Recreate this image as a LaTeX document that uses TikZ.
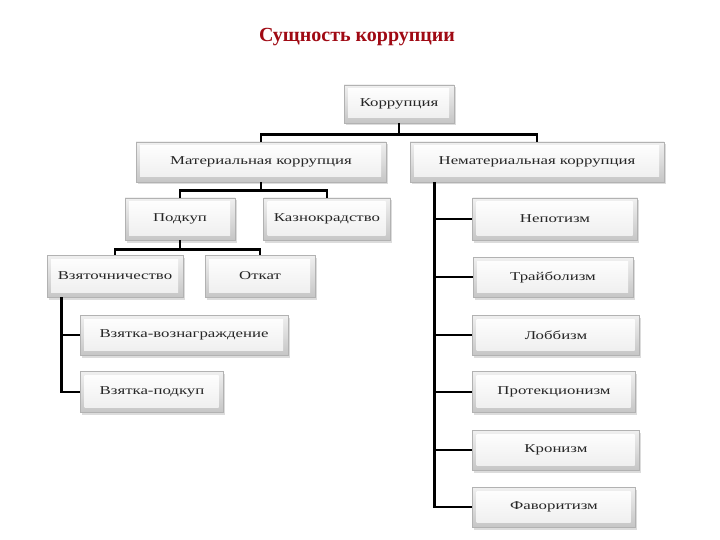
\documentclass[tikz,border=0pt]{standalone}
\usepackage{fontspec}
\setmainfont{Liberation Serif}
\newfontfamily\boxfont{Liberation Serif}[FakeStretch=1.4]
\usetikzlibrary{shadows}
\definecolor{titlered}{RGB}{160,10,20}
\tikzset{
  cbox/.style={draw=gray!60, line width=0.6pt, top color=gray!12, bottom color=gray!45,
    minimum width=#1, minimum height=40pt, inner sep=0pt,
    font=\boxfont\fontsize{12}{14}\selectfont, text=black!85,
    drop shadow={shadow xshift=1.5pt, shadow yshift=-2.5pt, fill=gray!60, opacity=0.45},
    path picture={\shade[top color=white, bottom color=gray!14]
      ([shift={(4pt,-4pt)}]path picture bounding box.north west) rectangle
      ([shift={(-5pt,5pt)}]path picture bounding box.south east);}},
  link/.style={line width=2.8pt, draw=black}
}
\begin{document}
\begin{tikzpicture}[x=1pt,y=-1pt]
\useasboundingbox[fill=white] (0,0) rectangle (720,540);
\node[font=\bfseries\fontsize{20}{24}\selectfont, text=titlered] (title) at (357,37) {Сущность коррупции};

\node[cbox=110pt, minimum height=38pt] (root) at (399,104) {Коррупция};
\node[cbox=250pt] (mat) at (261,162) {Материальная коррупция};
\node[cbox=254pt] (nemat) at (537,162) {Нематериальная коррупция};
\node[cbox=110pt, minimum height=42pt] (podkup) at (180,219) {Подкуп};
\node[cbox=127pt, minimum height=42pt] (kazn) at (327,219) {Казнокрадство};
\node[cbox=136pt, minimum height=42pt] (vzyat) at (115,276) {Взяточничество};
\node[cbox=110pt, minimum height=42pt] (otkat) at (260,276) {Откат};
\node[cbox=208pt] (vv) at (184,335) {Взятка-вознаграждение};
\node[cbox=143pt, minimum height=41pt] (vp) at (152,392) {Взятка-подкуп};
\node[cbox=165pt, minimum height=42pt] (nep) at (555,219) {Непотизм};
\node[cbox=160pt] (tra) at (553,277) {Трайболизм};
\node[cbox=167pt] (lob) at (556,335) {Лоббизм};
\node[cbox=163pt, minimum height=41pt] (prot) at (554,392) {Протекционизм};
\node[cbox=167pt] (kron) at (556,450) {Кронизм};
\node[cbox=163pt] (fav) at (554,507) {Фаворитизм};

\draw[link] (root.south) -- ++(0,11) -| (mat.north);
\draw[link] (root.south) -- ++(0,11) -| (nemat.north);
\draw[link] (mat.south) -- ++(0,8) -| (podkup.north);
\draw[link] (mat.south) -- ++(0,8) -| (kazn.north);
\draw[link] (podkup.south) -- ++(0,9) -| (vzyat.north);
\draw[link] (podkup.south) -- ++(0,9) -| (otkat.north);
\draw[link] ([xshift=15pt]vzyat.south west) |- (vv.west);
\draw[link] ([xshift=15pt]vzyat.south west) |- (vp.west);
\foreach \n in {nep,tra,lob,prot,kron,fav}
  \draw[link] ([xshift=25pt]nemat.south west) |- (\n.west);
\end{tikzpicture}
\end{document}
